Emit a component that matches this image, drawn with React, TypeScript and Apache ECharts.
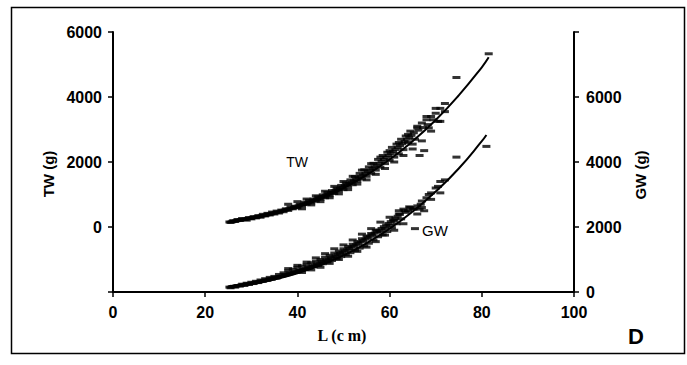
import React, { useEffect, useRef } from "react";
import * as echarts from "echarts";

// Length axis (cm)
const xTicks = [0, 20, 40, 60, 80, 100];

// Fitted curves
const fitL = [25, 30, 35, 40, 45, 50, 55, 60, 65, 70, 75, 80, 81.5];
const twFit = [140, 255, 410, 615, 875, 1200, 1600, 2075, 2640, 3290, 4050, 4915, 5220];
const gwFitL = [25, 30, 35, 40, 45, 50, 55, 60, 65, 70, 75, 80, 81];
const gwFit = [141, 243, 386, 576, 820, 1125, 1500, 1945, 2475, 3090, 3800, 4640, 4830];

// Observed total weight TW (g) vs L (cm)
const twObs: [number, number][] = [
  [25.5, 140], [26, 190], [26.5, 170], [27, 230], [27.5, 200], [28, 260], [28.5, 230], [29, 210],
  [29.5, 290], [30, 250], [30.5, 320], [31, 280], [31.5, 350], [32, 300], [32.5, 390], [33, 340],
  [33.5, 420], [34, 370], [34.5, 460], [35, 400], [35.5, 490], [36, 430], [36.5, 520], [37, 470],
  [37.5, 560], [38, 510], [38.5, 620], [39, 560], [39.5, 640], [40, 590], [40.5, 700], [41, 640],
  [41.5, 760], [42, 700], [42.5, 820], [43, 740], [43.5, 860], [44, 800], [44.5, 930], [45, 850],
  [45.5, 990], [46, 900], [46.5, 1060], [47, 960], [47.5, 1120], [48, 1030], [48.5, 1200], [49, 1100],
  [49.5, 1280], [50, 1150], [50.5, 1360], [51, 1230], [51.5, 1450], [52, 1300], [52.5, 1550], [53, 1400],
  [53.5, 1650], [54, 1480], [54.5, 1760], [55, 1560], [55.5, 1850], [56, 1650], [56.5, 1960], [57, 1750],
  [57.5, 2080], [58, 1840], [58.5, 2200], [59, 1950], [59.5, 2300], [60, 2050], [60.5, 2450], [61, 2150],
  [61.5, 2550], [62, 2250], [62.5, 2700], [63, 2380], [63.5, 2800], [64, 2600], [64.5, 2950], [65, 2550],
  [65.5, 2700], [66, 3050], [66.5, 2200], [67, 3200], [67.5, 2350], [68, 3300], [68.5, 3050], [69, 3400],
  [70, 3500], [70.5, 3250], [71, 3650], [72, 3550], [74.5, 4600], [81.5, 5330],
  [25.25, 155], [25.75, 160], [26.25, 185], [26.75, 195], [27.25, 210], [27.75, 225], [28.25, 240],
  [28.75, 250], [29.25, 265], [29.75, 270], [30.25, 290], [30.75, 300], [31.25, 310], [31.75, 330],
  [32.25, 345], [32.75, 360], [33.25, 370], [33.75, 400], [34.25, 405], [34.75, 430], [35.25, 445],
  [35.75, 460], [36.25, 470], [36.75, 500], [37.25, 520], [37.75, 540], [38.25, 560], [38.75, 580],
  [39.25, 600], [39.75, 615], [40.25, 650], [40.75, 680], [41.25, 690], [41.75, 720], [42.25, 745],
  [42.75, 770], [43.25, 800], [43.75, 830], [44.25, 860], [44.75, 880], [45.25, 920], [45.75, 950],
  [46.25, 980], [46.75, 1010], [47.25, 1050], [47.75, 1080], [48.25, 1120], [48.75, 1150], [49.25, 1190],
  [49.75, 1230], [50.25, 1270], [50.75, 1300], [51.25, 1340], [51.75, 1380], [52.25, 1420], [52.75, 1470],
  [53.25, 1510], [53.75, 1560], [54.25, 1600], [54.75, 1650], [55.25, 1700], [55.75, 1750], [56.25, 1800],
  [56.75, 1850], [57.25, 1900], [57.75, 1960], [58.25, 2020], [58.75, 2080], [59.25, 2140], [59.75, 2200],
  [60.25, 2260], [60.75, 2320], [61.25, 2380], [61.75, 2440], [62.25, 2500], [62.75, 2560], [63.25, 2630],
  [63.75, 2700], [64.25, 2760], [64.75, 2820], [65.25, 2900], [66.25, 2980], [67.25, 3060], [68.25, 3150],
  [69.5, 3300],
  [38, 700], [40, 780], [41, 560], [42, 860], [43, 680], [44, 960], [45, 780], [46, 1100], [47, 900],
  [48, 1250], [49, 1020], [50, 1400], [51, 1150], [52, 1560], [53, 1320], [54, 1750], [55, 1450],
  [56, 1950], [57, 1620], [58, 2150], [59, 1800], [60, 2350], [61, 2000], [62, 2600], [63, 2200],
  [64, 2850], [65, 2400], [66, 3100], [67, 2650], [68, 3400], [69, 2950], [70, 3650], [71, 3250],
  [72, 3800],
];

// Observed gutted weight GW (g) vs L (cm)
const gwObs: [number, number][] = [
  [25.5, 130], [26, 170], [26.5, 150], [27, 200], [27.5, 180], [28, 240], [28.5, 200], [29, 270],
  [29.5, 230], [30, 300], [30.5, 260], [31, 330], [31.5, 290], [32, 370], [32.5, 330], [33, 410],
  [33.5, 360], [34, 450], [34.5, 400], [35, 480], [35.5, 430], [36, 540], [36.5, 480], [37, 590],
  [37.5, 530], [38, 650], [38.5, 580], [39, 700], [39.5, 620], [40, 760], [40.5, 670], [41, 800],
  [41.5, 700], [42, 850], [42.5, 740], [43, 900], [43.5, 780], [44, 950], [44.5, 820], [45, 1000],
  [45.5, 870], [46, 1070], [46.5, 920], [47, 1130], [47.5, 970], [48, 1200], [48.5, 1030], [49, 1260],
  [49.5, 1090], [50, 1330], [50.5, 1150], [51, 1400], [51.5, 1210], [52, 1470], [52.5, 1280], [53, 1550],
  [53.5, 1350], [54, 1640], [54.5, 1420], [55, 1720], [55.5, 1500], [56, 1800], [56.5, 1600], [57, 1900],
  [57.5, 1700], [58, 1850], [58.5, 1760], [59, 1950], [59.5, 1860], [60, 2050], [60.5, 1980], [61, 2200],
  [61.5, 2100], [62, 2400], [62.5, 2250], [63, 2550], [63.5, 2450], [64, 2500], [64.5, 2600], [65, 2550],
  [65.5, 1950], [66, 2650], [66.5, 2550], [67, 2800], [67.5, 2500], [68, 2900], [69, 3050], [70, 3200],
  [71, 3400], [74.5, 4150], [81, 4480],
  [25.25, 150], [25.75, 165], [26.25, 175], [26.75, 185], [27.25, 200], [27.75, 210], [28.25, 225],
  [28.75, 235], [29.25, 250], [29.75, 260], [30.25, 275], [30.75, 290], [31.25, 305], [31.75, 320],
  [32.25, 335], [32.75, 350], [33.25, 365], [33.75, 385], [34.25, 400], [34.75, 420], [35.25, 435],
  [35.75, 455], [36.25, 475], [36.75, 495], [37.25, 515], [37.75, 535], [38.25, 555], [38.75, 580],
  [39.25, 600], [39.75, 625], [40.25, 650], [40.75, 670], [41.25, 700], [41.75, 720], [42.25, 750],
  [42.75, 775], [43.25, 800], [43.75, 830], [44.25, 860], [44.75, 890], [45.25, 920], [45.75, 950],
  [46.25, 980], [46.75, 1010], [47.25, 1045], [47.75, 1080], [48.25, 1110], [48.75, 1150], [49.25, 1185],
  [49.75, 1220], [50.25, 1260], [50.75, 1295], [51.25, 1335], [51.75, 1375], [52.25, 1415], [52.75, 1455],
  [53.25, 1495], [53.75, 1540], [54.25, 1580], [54.75, 1625], [55.25, 1670], [55.75, 1715], [56.25, 1760],
  [56.75, 1810], [57.25, 1860], [57.75, 1905], [58.25, 1955], [58.75, 2010], [59.25, 2060], [59.75, 2110],
  [60.25, 2165], [60.75, 2220], [61.25, 2275], [61.75, 2330], [62.25, 2390], [63.25, 2500], [64.25, 2620],
  [65.25, 2560], [66.75, 2700], [68.5, 3000], [70.5, 3250],
  [38, 720], [40, 820], [41, 600], [42, 920], [43, 680], [44, 1050], [45, 760], [46, 1180], [47, 880],
  [48, 1330], [49, 1000], [50, 1450], [51, 1100], [52, 1600], [53, 1250], [54, 1780], [55, 1380],
  [56, 1950], [57, 1550], [58, 2150], [59, 1750], [60, 2300], [61, 1900], [62, 2500], [63, 2100],
  [66, 2400], [67, 2600], [69, 2850], [71, 3050], [72, 3450],
];

const twTicks = [-2000, 0, 2000, 4000, 6000];
const gwTicks = [0, 2000, 4000, 6000, 8000];

export default function App() {
  const ref = useRef<HTMLDivElement>(null);
  useEffect(() => {
    if (!ref.current) return;
    const chart = echarts.init(ref.current, undefined, { renderer: "svg" });
    const labelFont = {
      color: "#000",
      fontFamily: "Liberation Sans, Arial, sans-serif",
      fontWeight: "bold" as const,
      fontSize: 16,
    };
    const axisLine = { show: true, onZero: false, lineStyle: { color: "#000", width: 2 } };
    const axisTick = { show: true, length: 5, lineStyle: { color: "#000", width: 1.5 } };
    const obsStyle = {
      type: "scatter" as const,
      symbol: "rect",
      symbolSize: [8, 3],
      itemStyle: { color: "#000" },
    };
    chart.setOption({
      animation: false,
      backgroundColor: "#fff",
      grid: { left: 113, right: 113, top: 32, bottom: 73, containLabel: false },
      xAxis: {
        type: "value",
        min: xTicks[0],
        max: xTicks[xTicks.length - 1],
        interval: 20,
        axisLine,
        axisTick,
        splitLine: { show: false },
        axisLabel: { ...labelFont, margin: 12 },
      },
      yAxis: [
        {
          type: "value",
          position: "left",
          min: twTicks[0],
          max: twTicks[twTicks.length - 1],
          interval: 2000,
          axisLine,
          axisTick,
          splitLine: { show: false },
          axisLabel: {
            ...labelFont,
            margin: 11,
            formatter: (v: number) => (v === twTicks[0] ? "" : String(v)),
          },
        },
        {
          type: "value",
          position: "right",
          min: gwTicks[0],
          max: gwTicks[gwTicks.length - 1],
          interval: 2000,
          axisLine,
          axisTick,
          splitLine: { show: false },
          axisLabel: {
            ...labelFont,
            margin: 12,
            formatter: (v: number) => (v === gwTicks[gwTicks.length - 1] ? "" : String(v)),
          },
        },
      ],
      graphic: [
        {
          type: "rect",
          shape: { x: 11.5, y: 7.5, width: 673, height: 346 },
          style: { fill: "none", stroke: "#000", lineWidth: 1.5 },
          silent: true,
        },
        {
          type: "text",
          x: 48,
          y: 174,
          rotation: Math.PI / 2,
          style: {
            text: "TW (g)",
            fill: "#000",
            font: "bold 15px 'Liberation Sans', Arial, sans-serif",
            textAlign: "center",
            textVerticalAlign: "middle",
          },
        },
        {
          type: "text",
          x: 640,
          y: 175,
          rotation: Math.PI / 2,
          style: {
            text: "GW (g)",
            fill: "#000",
            font: "bold 15px 'Liberation Sans', Arial, sans-serif",
            textAlign: "center",
            textVerticalAlign: "middle",
          },
        },
        {
          type: "text",
          x: 342,
          y: 335,
          style: {
            text: "L (c m)",
            fill: "#000",
            font: "bold 16px 'Liberation Serif', 'Times New Roman', serif",
            textAlign: "center",
            textVerticalAlign: "middle",
          },
        },
        {
          type: "text",
          x: 636,
          y: 336,
          style: {
            text: "D",
            fill: "#000",
            font: "bold 22px 'Liberation Sans', Arial, sans-serif",
            textAlign: "center",
            textVerticalAlign: "middle",
          },
        },
        {
          type: "text",
          x: 297,
          y: 162,
          style: {
            text: "TW",
            fill: "#000",
            font: "14px 'Liberation Sans', Arial, sans-serif",
            textAlign: "center",
            textVerticalAlign: "middle",
          },
        },
        {
          type: "text",
          x: 435,
          y: 230,
          style: {
            text: "GW",
            fill: "#000",
            font: "15px 'Liberation Sans', Arial, sans-serif",
            textAlign: "center",
            textVerticalAlign: "middle",
          },
        },
      ],
      series: [
        { ...obsStyle, name: "TW obs", yAxisIndex: 0, data: twObs },
        {
          name: "TW fit",
          type: "line",
          yAxisIndex: 0,
          smooth: true,
          showSymbol: false,
          lineStyle: { color: "#000", width: 2 },
          data: fitL.map((l, i) => [l, twFit[i]]),
        },
        { ...obsStyle, name: "GW obs", yAxisIndex: 1, data: gwObs },
        {
          name: "GW fit",
          type: "line",
          yAxisIndex: 1,
          smooth: true,
          showSymbol: false,
          lineStyle: { color: "#000", width: 2 },
          data: gwFitL.map((l, i) => [l, gwFit[i]]),
        },
      ],
    });
    return () => chart.dispose();
  }, []);
  return (
    <div
      ref={ref}
      style={{ position: "fixed", left: 0, top: 0, width: 687, height: 365, background: "#fff" }}
    />
  );
}
